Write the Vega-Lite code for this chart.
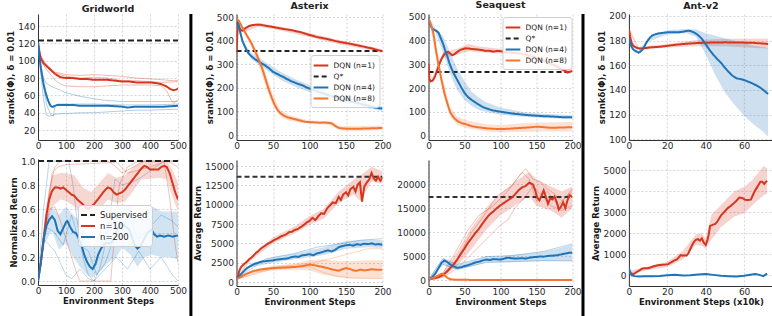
{
"$schema":"https://vega.github.io/schema/vega-lite/v6.json",
"padding":{"left":6,"top":0,"right":0,"bottom":0},
"autosize":{"type":"pad"},
"background":"white",
"config":{
 "font":"DejaVu Sans",
 "view":{"stroke":null},
 "axis":{"labelFont":"DejaVu Sans","labelFontSize":9,"labelColor":"#2a2a2a","titleFont":"DejaVu Sans","titleFontSize":8.5,"titleFontWeight":"bold","titleColor":"#1a1a1a","domainColor":"#333333","domainWidth":1,"ticks":false,"labelPadding":3,"titlePadding":2,"gridColor":"#b8b8b8","gridDash":[2,2],"gridWidth":0.6,"labelFlush":false,"labelOverlap":false},
 "axisX":{"labelPadding":1,"titlePadding":1},
 "axisY":{"titlePadding":2},
 "legend":{"labelFont":"DejaVu Sans","labelColor":"#222222","symbolType":"M-1.4,0H1.4","symbolStrokeWidth":2,"symbolFillColor":"transparent","padding":4,"fillColor":"rgba(255,255,255,0.85)","strokeColor":"#cfcfcf","cornerRadius":3,"rowPadding":0,"labelOffset":6},
 "title":{"font":"DejaVu Sans","fontSize":9.5,"fontWeight":"bold","color":"#222222","anchor":"middle"}
},
"datasets":{
"gwt_l":[
{"s":"Q*","x":0,"y":123.5},{"s":"Q*","x":500,"y":123.5},
{"s":"n=10","x":0,"y":121},{"s":"n=10","x":5,"y":110},{"s":"n=10","x":10,"y":103},{"s":"n=10","x":20,"y":97},{"s":"n=10","x":30,"y":94},{"s":"n=10","x":40,"y":91},{"s":"n=10","x":50,"y":88},{"s":"n=10","x":60,"y":85},{"s":"n=10","x":70,"y":83},{"s":"n=10","x":80,"y":81},{"s":"n=10","x":100,"y":80},{"s":"n=10","x":125,"y":80},{"s":"n=10","x":150,"y":79},{"s":"n=10","x":175,"y":79},{"s":"n=10","x":200,"y":78},{"s":"n=10","x":225,"y":78},{"s":"n=10","x":250,"y":78},{"s":"n=10","x":275,"y":77},{"s":"n=10","x":300,"y":76},{"s":"n=10","x":325,"y":76},{"s":"n=10","x":350,"y":75},{"s":"n=10","x":375,"y":75},{"s":"n=10","x":400,"y":75},{"s":"n=10","x":425,"y":74},{"s":"n=10","x":440,"y":73},{"s":"n=10","x":455,"y":71},{"s":"n=10","x":465,"y":69},{"s":"n=10","x":475,"y":67},{"s":"n=10","x":485,"y":66},{"s":"n=10","x":495,"y":67},{"s":"n=10","x":500,"y":68},
{"s":"n=200","x":0,"y":121},{"s":"n=200","x":5,"y":105},{"s":"n=200","x":10,"y":92},{"s":"n=200","x":15,"y":82},{"s":"n=200","x":20,"y":73},{"s":"n=200","x":25,"y":66},{"s":"n=200","x":30,"y":60},{"s":"n=200","x":35,"y":55},{"s":"n=200","x":40,"y":51},{"s":"n=200","x":45,"y":48},{"s":"n=200","x":50,"y":47},{"s":"n=200","x":55,"y":47},{"s":"n=200","x":60,"y":48},{"s":"n=200","x":70,"y":49},{"s":"n=200","x":80,"y":49},{"s":"n=200","x":100,"y":49},{"s":"n=200","x":125,"y":49},{"s":"n=200","x":150,"y":48},{"s":"n=200","x":200,"y":48},{"s":"n=200","x":250,"y":48},{"s":"n=200","x":300,"y":47},{"s":"n=200","x":320,"y":46},{"s":"n=200","x":350,"y":47},{"s":"n=200","x":400,"y":47},{"s":"n=200","x":450,"y":47},{"s":"n=200","x":500,"y":48}
],
"gwt_f":[
{"s":"n=10","r":"a","x":0,"y":121},{"s":"n=10","r":"a","x":10,"y":106},{"s":"n=10","r":"a","x":30,"y":96},{"s":"n=10","r":"a","x":60,"y":87},{"s":"n=10","r":"a","x":100,"y":84},{"s":"n=10","r":"a","x":150,"y":83},{"s":"n=10","r":"a","x":200,"y":84},{"s":"n=10","r":"a","x":250,"y":83},{"s":"n=10","r":"a","x":300,"y":82},{"s":"n=10","r":"a","x":350,"y":80},{"s":"n=10","r":"a","x":400,"y":79},{"s":"n=10","r":"a","x":450,"y":78},{"s":"n=10","r":"a","x":480,"y":77},{"s":"n=10","r":"a","x":500,"y":77},
{"s":"n=10","r":"b","x":0,"y":121},{"s":"n=10","r":"b","x":10,"y":100},{"s":"n=10","r":"b","x":30,"y":90},{"s":"n=10","r":"b","x":60,"y":78},{"s":"n=10","r":"b","x":80,"y":73},{"s":"n=10","r":"b","x":100,"y":71},{"s":"n=10","r":"b","x":150,"y":70},{"s":"n=10","r":"b","x":200,"y":70},{"s":"n=10","r":"b","x":250,"y":71},{"s":"n=10","r":"b","x":300,"y":72},{"s":"n=10","r":"b","x":350,"y":72},{"s":"n=10","r":"b","x":400,"y":72},{"s":"n=10","r":"b","x":440,"y":71},{"s":"n=10","r":"b","x":460,"y":65},{"s":"n=10","r":"b","x":475,"y":55},{"s":"n=10","r":"b","x":485,"y":51},{"s":"n=10","r":"b","x":500,"y":55},
{"s":"n=10","r":"c","x":0,"y":121},{"s":"n=10","r":"c","x":10,"y":103},{"s":"n=10","r":"c","x":30,"y":95},{"s":"n=10","r":"c","x":60,"y":86},{"s":"n=10","r":"c","x":100,"y":82},{"s":"n=10","r":"c","x":150,"y":80},{"s":"n=10","r":"c","x":200,"y":81},{"s":"n=10","r":"c","x":250,"y":80},{"s":"n=10","r":"c","x":300,"y":77},{"s":"n=10","r":"c","x":350,"y":77},{"s":"n=10","r":"c","x":400,"y":76},{"s":"n=10","r":"c","x":450,"y":75},{"s":"n=10","r":"c","x":500,"y":76},
{"s":"n=200","r":"a","x":0,"y":118},{"s":"n=200","r":"a","x":10,"y":95},{"s":"n=200","r":"a","x":20,"y":80},{"s":"n=200","r":"a","x":30,"y":74},{"s":"n=200","r":"a","x":50,"y":70},{"s":"n=200","r":"a","x":80,"y":66},{"s":"n=200","r":"a","x":100,"y":63},{"s":"n=200","r":"a","x":150,"y":59},{"s":"n=200","r":"a","x":200,"y":56},{"s":"n=200","r":"a","x":250,"y":54},{"s":"n=200","r":"a","x":300,"y":53},{"s":"n=200","r":"a","x":400,"y":53},{"s":"n=200","r":"a","x":500,"y":53},
{"s":"n=200","r":"b","x":0,"y":118},{"s":"n=200","r":"b","x":10,"y":85},{"s":"n=200","r":"b","x":20,"y":55},{"s":"n=200","r":"b","x":30,"y":37},{"s":"n=200","r":"b","x":40,"y":36},{"s":"n=200","r":"b","x":50,"y":37},{"s":"n=200","r":"b","x":60,"y":38},{"s":"n=200","r":"b","x":80,"y":39},{"s":"n=200","r":"b","x":100,"y":39},{"s":"n=200","r":"b","x":150,"y":40},{"s":"n=200","r":"b","x":200,"y":40},{"s":"n=200","r":"b","x":250,"y":41},{"s":"n=200","r":"b","x":300,"y":42},{"s":"n=200","r":"b","x":350,"y":43},{"s":"n=200","r":"b","x":400,"y":43},{"s":"n=200","r":"b","x":500,"y":44},
{"s":"n=200","r":"c","x":0,"y":118},{"s":"n=200","r":"c","x":15,"y":80},{"s":"n=200","r":"c","x":30,"y":50},{"s":"n=200","r":"c","x":45,"y":38},{"s":"n=200","r":"c","x":55,"y":36},{"s":"n=200","r":"c","x":60,"y":47},{"s":"n=200","r":"c","x":70,"y":50},{"s":"n=200","r":"c","x":100,"y":50},{"s":"n=200","r":"c","x":200,"y":50},{"s":"n=200","r":"c","x":300,"y":49},{"s":"n=200","r":"c","x":400,"y":49},{"s":"n=200","r":"c","x":500,"y":50}
],
"gwb_l":[
{"s":"Supervised","x":0,"y":1},{"s":"Supervised","x":500,"y":1},
{"s":"n=10","x":0,"y":0},{"s":"n=10","x":10,"y":0.15},{"s":"n=10","x":20,"y":0.35},{"s":"n=10","x":30,"y":0.55},{"s":"n=10","x":40,"y":0.68},{"s":"n=10","x":50,"y":0.75},{"s":"n=10","x":60,"y":0.78},{"s":"n=10","x":70,"y":0.78},{"s":"n=10","x":80,"y":0.77},{"s":"n=10","x":90,"y":0.78},{"s":"n=10","x":100,"y":0.76},{"s":"n=10","x":110,"y":0.74},{"s":"n=10","x":120,"y":0.72},{"s":"n=10","x":130,"y":0.71},{"s":"n=10","x":140,"y":0.68},{"s":"n=10","x":150,"y":0.66},{"s":"n=10","x":160,"y":0.64},{"s":"n=10","x":170,"y":0.61},{"s":"n=10","x":180,"y":0.6},{"s":"n=10","x":190,"y":0.62},{"s":"n=10","x":200,"y":0.64},{"s":"n=10","x":210,"y":0.67},{"s":"n=10","x":220,"y":0.7},{"s":"n=10","x":230,"y":0.73},{"s":"n=10","x":240,"y":0.76},{"s":"n=10","x":250,"y":0.78},{"s":"n=10","x":260,"y":0.77},{"s":"n=10","x":270,"y":0.74},{"s":"n=10","x":280,"y":0.72},{"s":"n=10","x":290,"y":0.73},{"s":"n=10","x":300,"y":0.74},{"s":"n=10","x":310,"y":0.76},{"s":"n=10","x":320,"y":0.79},{"s":"n=10","x":330,"y":0.82},{"s":"n=10","x":340,"y":0.85},{"s":"n=10","x":350,"y":0.88},{"s":"n=10","x":360,"y":0.91},{"s":"n=10","x":370,"y":0.94},{"s":"n=10","x":380,"y":0.96},{"s":"n=10","x":390,"y":0.95},{"s":"n=10","x":400,"y":0.93},{"s":"n=10","x":410,"y":0.93},{"s":"n=10","x":420,"y":0.93},{"s":"n=10","x":430,"y":0.93},{"s":"n=10","x":440,"y":0.95},{"s":"n=10","x":450,"y":0.96},{"s":"n=10","x":460,"y":0.95},{"s":"n=10","x":470,"y":0.9},{"s":"n=10","x":480,"y":0.82},{"s":"n=10","x":490,"y":0.74},{"s":"n=10","x":500,"y":0.68},
{"s":"n=200","x":0,"y":0},{"s":"n=200","x":10,"y":0.15},{"s":"n=200","x":20,"y":0.35},{"s":"n=200","x":30,"y":0.46},{"s":"n=200","x":40,"y":0.51},{"s":"n=200","x":50,"y":0.54},{"s":"n=200","x":60,"y":0.51},{"s":"n=200","x":70,"y":0.42},{"s":"n=200","x":80,"y":0.39},{"s":"n=200","x":90,"y":0.44},{"s":"n=200","x":100,"y":0.49},{"s":"n=200","x":105,"y":0.5},{"s":"n=200","x":115,"y":0.45},{"s":"n=200","x":125,"y":0.41},{"s":"n=200","x":135,"y":0.4},{"s":"n=200","x":145,"y":0.36},{"s":"n=200","x":155,"y":0.3},{"s":"n=200","x":165,"y":0.22},{"s":"n=200","x":175,"y":0.16},{"s":"n=200","x":185,"y":0.12},{"s":"n=200","x":195,"y":0.1},{"s":"n=200","x":205,"y":0.14},{"s":"n=200","x":215,"y":0.22},{"s":"n=200","x":225,"y":0.27},{"s":"n=200","x":235,"y":0.3},{"s":"n=200","x":245,"y":0.32},{"s":"n=200","x":255,"y":0.31},{"s":"n=200","x":265,"y":0.33},{"s":"n=200","x":275,"y":0.37},{"s":"n=200","x":285,"y":0.44},{"s":"n=200","x":295,"y":0.48},{"s":"n=200","x":305,"y":0.47},{"s":"n=200","x":315,"y":0.45},{"s":"n=200","x":325,"y":0.43},{"s":"n=200","x":335,"y":0.37},{"s":"n=200","x":345,"y":0.3},{"s":"n=200","x":355,"y":0.27},{"s":"n=200","x":365,"y":0.29},{"s":"n=200","x":375,"y":0.33},{"s":"n=200","x":385,"y":0.38},{"s":"n=200","x":395,"y":0.41},{"s":"n=200","x":405,"y":0.43},{"s":"n=200","x":415,"y":0.39},{"s":"n=200","x":425,"y":0.37},{"s":"n=200","x":435,"y":0.38},{"s":"n=200","x":450,"y":0.37},{"s":"n=200","x":465,"y":0.38},{"s":"n=200","x":480,"y":0.37},{"s":"n=200","x":500,"y":0.38}
],
"gwb_b":[
{"s":"n=10","x":0,"lo":0,"hi":0},{"s":"n=10","x":30,"lo":0.45,"hi":0.65},{"s":"n=10","x":50,"lo":0.62,"hi":0.88},{"s":"n=10","x":80,"lo":0.68,"hi":0.9},{"s":"n=10","x":100,"lo":0.67,"hi":0.9},{"s":"n=10","x":130,"lo":0.62,"hi":0.88},{"s":"n=10","x":160,"lo":0.55,"hi":0.78},{"s":"n=10","x":190,"lo":0.52,"hi":0.74},{"s":"n=10","x":220,"lo":0.6,"hi":0.82},{"s":"n=10","x":250,"lo":0.68,"hi":0.9},{"s":"n=10","x":280,"lo":0.65,"hi":0.86},{"s":"n=10","x":310,"lo":0.66,"hi":0.88},{"s":"n=10","x":340,"lo":0.75,"hi":0.95},{"s":"n=10","x":370,"lo":0.85,"hi":1.0},{"s":"n=10","x":400,"lo":0.85,"hi":1.0},{"s":"n=10","x":430,"lo":0.86,"hi":1.0},{"s":"n=10","x":460,"lo":0.85,"hi":1.0},{"s":"n=10","x":480,"lo":0.7,"hi":0.93},{"s":"n=10","x":500,"lo":0.58,"hi":0.82},
{"s":"n=200","x":0,"lo":0,"hi":0},{"s":"n=200","x":25,"lo":0.32,"hi":0.5},{"s":"n=200","x":50,"lo":0.42,"hi":0.62},{"s":"n=200","x":75,"lo":0.26,"hi":0.55},{"s":"n=200","x":100,"lo":0.32,"hi":0.62},{"s":"n=200","x":125,"lo":0.2,"hi":0.55},{"s":"n=200","x":150,"lo":0.12,"hi":0.5},{"s":"n=200","x":175,"lo":0.05,"hi":0.38},{"s":"n=200","x":195,"lo":0.03,"hi":0.28},{"s":"n=200","x":220,"lo":0.08,"hi":0.42},{"s":"n=200","x":250,"lo":0.15,"hi":0.5},{"s":"n=200","x":280,"lo":0.2,"hi":0.58},{"s":"n=200","x":300,"lo":0.28,"hi":0.62},{"s":"n=200","x":330,"lo":0.22,"hi":0.62},{"s":"n=200","x":355,"lo":0.12,"hi":0.48},{"s":"n=200","x":380,"lo":0.2,"hi":0.58},{"s":"n=200","x":410,"lo":0.22,"hi":0.62},{"s":"n=200","x":440,"lo":0.2,"hi":0.58},{"s":"n=200","x":470,"lo":0.2,"hi":0.58},{"s":"n=200","x":500,"lo":0.18,"hi":0.58}
],
"gwb_f":[
{"s":"n=10","r":"a","x":0,"y":0},{"s":"n=10","r":"a","x":20,"y":0.3},{"s":"n=10","r":"a","x":40,"y":0.75},{"s":"n=10","r":"a","x":60,"y":0.95},{"s":"n=10","r":"a","x":80,"y":1.0},{"s":"n=10","r":"a","x":250,"y":1.0},{"s":"n=10","r":"a","x":280,"y":0.95},{"s":"n=10","r":"a","x":300,"y":0.9},{"s":"n=10","r":"a","x":340,"y":0.95},{"s":"n=10","r":"a","x":380,"y":1.0},{"s":"n=10","r":"a","x":500,"y":1.0},
{"s":"n=10","r":"b","x":0,"y":0},{"s":"n=10","r":"b","x":20,"y":0.35},{"s":"n=10","r":"b","x":40,"y":0.6},{"s":"n=10","r":"b","x":60,"y":0.62},{"s":"n=10","r":"b","x":80,"y":0.5},{"s":"n=10","r":"b","x":100,"y":0.35},{"s":"n=10","r":"b","x":120,"y":0.2},{"s":"n=10","r":"b","x":140,"y":0.05},{"s":"n=10","r":"b","x":150,"y":0},{"s":"n=10","r":"b","x":260,"y":0},{"s":"n=10","r":"b","x":270,"y":0.3},{"s":"n=10","r":"b","x":290,"y":0.8},{"s":"n=10","r":"b","x":320,"y":0.95},{"s":"n=10","r":"b","x":360,"y":1.0},{"s":"n=10","r":"b","x":450,"y":1.0},{"s":"n=10","r":"b","x":470,"y":0.7},{"s":"n=10","r":"b","x":490,"y":0.3},{"s":"n=10","r":"b","x":500,"y":0.15},
{"s":"n=10","r":"c","x":0,"y":0},{"s":"n=10","r":"c","x":30,"y":0.5},{"s":"n=10","r":"c","x":50,"y":0.9},{"s":"n=10","r":"c","x":70,"y":0.95},{"s":"n=10","r":"c","x":100,"y":0.97},{"s":"n=10","r":"c","x":200,"y":0.98},{"s":"n=10","r":"c","x":280,"y":0.99},{"s":"n=10","r":"c","x":320,"y":0.9},{"s":"n=10","r":"c","x":400,"y":0.95},{"s":"n=10","r":"c","x":460,"y":1.0},{"s":"n=10","r":"c","x":500,"y":0.95},
{"s":"n=200","r":"a","x":0,"y":0},{"s":"n=200","r":"a","x":20,"y":0.6},{"s":"n=200","r":"a","x":40,"y":1.0},{"s":"n=200","r":"a","x":110,"y":1.0},{"s":"n=200","r":"a","x":125,"y":0.8},{"s":"n=200","r":"a","x":140,"y":0.5},{"s":"n=200","r":"a","x":160,"y":0.2},{"s":"n=200","r":"a","x":180,"y":0.05},{"s":"n=200","r":"a","x":200,"y":0},{"s":"n=200","r":"a","x":220,"y":0.1},{"s":"n=200","r":"a","x":240,"y":0.3},{"s":"n=200","r":"a","x":260,"y":0.6},{"s":"n=200","r":"a","x":275,"y":0.85},{"s":"n=200","r":"a","x":300,"y":0.8},{"s":"n=200","r":"a","x":330,"y":0.82},{"s":"n=200","r":"a","x":360,"y":0.85},{"s":"n=200","r":"a","x":390,"y":0.9},{"s":"n=200","r":"a","x":420,"y":0.95},{"s":"n=200","r":"a","x":450,"y":1.0},{"s":"n=200","r":"a","x":500,"y":1.0},
{"s":"n=200","r":"b","x":0,"y":0},{"s":"n=200","r":"b","x":20,"y":0.35},{"s":"n=200","r":"b","x":40,"y":0.3},{"s":"n=200","r":"b","x":60,"y":0.25},{"s":"n=200","r":"b","x":80,"y":0.15},{"s":"n=200","r":"b","x":100,"y":0.05},{"s":"n=200","r":"b","x":120,"y":0.02},{"s":"n=200","r":"b","x":150,"y":0.1},{"s":"n=200","r":"b","x":180,"y":0.02},{"s":"n=200","r":"b","x":200,"y":0},{"s":"n=200","r":"b","x":240,"y":0.1},{"s":"n=200","r":"b","x":280,"y":0.2},{"s":"n=200","r":"b","x":320,"y":0.1},{"s":"n=200","r":"b","x":360,"y":0.25},{"s":"n=200","r":"b","x":400,"y":0.1},{"s":"n=200","r":"b","x":440,"y":0.2},{"s":"n=200","r":"b","x":480,"y":0.05},{"s":"n=200","r":"b","x":500,"y":0},
{"s":"n=200","r":"c","x":0,"y":0},{"s":"n=200","r":"c","x":30,"y":0.45},{"s":"n=200","r":"c","x":60,"y":0.4},{"s":"n=200","r":"c","x":90,"y":0.3},{"s":"n=200","r":"c","x":120,"y":0.55},{"s":"n=200","r":"c","x":150,"y":0.3},{"s":"n=200","r":"c","x":180,"y":0.25},{"s":"n=200","r":"c","x":210,"y":0.05},{"s":"n=200","r":"c","x":240,"y":0.15},{"s":"n=200","r":"c","x":270,"y":0.35},{"s":"n=200","r":"c","x":300,"y":0.45},{"s":"n=200","r":"c","x":330,"y":0.5},{"s":"n=200","r":"c","x":360,"y":0.35},{"s":"n=200","r":"c","x":400,"y":0.45},{"s":"n=200","r":"c","x":440,"y":0.55},{"s":"n=200","r":"c","x":480,"y":0.5},{"s":"n=200","r":"c","x":500,"y":0.45}
],
"ast_l":[
{"s":"Q*","x":0,"y":356},{"s":"Q*","x":200,"y":356},
{"s":"DQN (n=1)","x":0,"y":350},{"s":"DQN (n=1)","x":1,"y":420},{"s":"DQN (n=1)","x":2,"y":475},{"s":"DQN (n=1)","x":4,"y":455},{"s":"DQN (n=1)","x":6,"y":445},{"s":"DQN (n=1)","x":8,"y":442},{"s":"DQN (n=1)","x":10,"y":447},{"s":"DQN (n=1)","x":13,"y":455},{"s":"DQN (n=1)","x":17,"y":462},{"s":"DQN (n=1)","x":22,"y":466},{"s":"DQN (n=1)","x":28,"y":468},{"s":"DQN (n=1)","x":34,"y":467},{"s":"DQN (n=1)","x":40,"y":463},{"s":"DQN (n=1)","x":46,"y":460},{"s":"DQN (n=1)","x":52,"y":457},{"s":"DQN (n=1)","x":58,"y":453},{"s":"DQN (n=1)","x":64,"y":450},{"s":"DQN (n=1)","x":70,"y":447},{"s":"DQN (n=1)","x":76,"y":444},{"s":"DQN (n=1)","x":82,"y":440},{"s":"DQN (n=1)","x":88,"y":436},{"s":"DQN (n=1)","x":94,"y":430},{"s":"DQN (n=1)","x":100,"y":424},{"s":"DQN (n=1)","x":106,"y":419},{"s":"DQN (n=1)","x":112,"y":414},{"s":"DQN (n=1)","x":118,"y":411},{"s":"DQN (n=1)","x":124,"y":407},{"s":"DQN (n=1)","x":130,"y":403},{"s":"DQN (n=1)","x":136,"y":398},{"s":"DQN (n=1)","x":142,"y":394},{"s":"DQN (n=1)","x":148,"y":391},{"s":"DQN (n=1)","x":154,"y":388},{"s":"DQN (n=1)","x":160,"y":384},{"s":"DQN (n=1)","x":166,"y":380},{"s":"DQN (n=1)","x":172,"y":376},{"s":"DQN (n=1)","x":178,"y":372},{"s":"DQN (n=1)","x":184,"y":368},{"s":"DQN (n=1)","x":190,"y":363},{"s":"DQN (n=1)","x":196,"y":358},{"s":"DQN (n=1)","x":200,"y":356},
{"s":"DQN (n=4)","x":0,"y":470},{"s":"DQN (n=4)","x":2,"y":478},{"s":"DQN (n=4)","x":4,"y":450},{"s":"DQN (n=4)","x":6,"y":425},{"s":"DQN (n=4)","x":8,"y":400},{"s":"DQN (n=4)","x":10,"y":385},{"s":"DQN (n=4)","x":13,"y":365},{"s":"DQN (n=4)","x":16,"y":348},{"s":"DQN (n=4)","x":20,"y":335},{"s":"DQN (n=4)","x":25,"y":322},{"s":"DQN (n=4)","x":30,"y":312},{"s":"DQN (n=4)","x":35,"y":303},{"s":"DQN (n=4)","x":40,"y":293},{"s":"DQN (n=4)","x":45,"y":282},{"s":"DQN (n=4)","x":50,"y":268},{"s":"DQN (n=4)","x":55,"y":260},{"s":"DQN (n=4)","x":60,"y":252},{"s":"DQN (n=4)","x":65,"y":245},{"s":"DQN (n=4)","x":70,"y":236},{"s":"DQN (n=4)","x":75,"y":228},{"s":"DQN (n=4)","x":80,"y":222},{"s":"DQN (n=4)","x":85,"y":216},{"s":"DQN (n=4)","x":90,"y":211},{"s":"DQN (n=4)","x":95,"y":203},{"s":"DQN (n=4)","x":100,"y":197},{"s":"DQN (n=4)","x":105,"y":192},{"s":"DQN (n=4)","x":110,"y":185},{"s":"DQN (n=4)","x":115,"y":180},{"s":"DQN (n=4)","x":120,"y":175},{"s":"DQN (n=4)","x":125,"y":170},{"s":"DQN (n=4)","x":130,"y":165},{"s":"DQN (n=4)","x":135,"y":160},{"s":"DQN (n=4)","x":140,"y":155},{"s":"DQN (n=4)","x":145,"y":150},{"s":"DQN (n=4)","x":150,"y":147},{"s":"DQN (n=4)","x":155,"y":143},{"s":"DQN (n=4)","x":160,"y":140},{"s":"DQN (n=4)","x":165,"y":137},{"s":"DQN (n=4)","x":170,"y":132},{"s":"DQN (n=4)","x":175,"y":128},{"s":"DQN (n=4)","x":180,"y":125},{"s":"DQN (n=4)","x":185,"y":121},{"s":"DQN (n=4)","x":190,"y":117},{"s":"DQN (n=4)","x":195,"y":114},{"s":"DQN (n=4)","x":200,"y":112},
{"s":"DQN (n=8)","x":0,"y":492},{"s":"DQN (n=8)","x":3,"y":485},{"s":"DQN (n=8)","x":6,"y":468},{"s":"DQN (n=8)","x":10,"y":445},{"s":"DQN (n=8)","x":15,"y":418},{"s":"DQN (n=8)","x":20,"y":392},{"s":"DQN (n=8)","x":24,"y":365},{"s":"DQN (n=8)","x":28,"y":338},{"s":"DQN (n=8)","x":32,"y":308},{"s":"DQN (n=8)","x":36,"y":275},{"s":"DQN (n=8)","x":40,"y":235},{"s":"DQN (n=8)","x":44,"y":195},{"s":"DQN (n=8)","x":48,"y":160},{"s":"DQN (n=8)","x":52,"y":130},{"s":"DQN (n=8)","x":56,"y":107},{"s":"DQN (n=8)","x":60,"y":93},{"s":"DQN (n=8)","x":65,"y":82},{"s":"DQN (n=8)","x":70,"y":75},{"s":"DQN (n=8)","x":75,"y":71},{"s":"DQN (n=8)","x":80,"y":67},{"s":"DQN (n=8)","x":85,"y":63},{"s":"DQN (n=8)","x":90,"y":59},{"s":"DQN (n=8)","x":95,"y":56},{"s":"DQN (n=8)","x":100,"y":55},{"s":"DQN (n=8)","x":105,"y":54},{"s":"DQN (n=8)","x":110,"y":53},{"s":"DQN (n=8)","x":115,"y":52},{"s":"DQN (n=8)","x":120,"y":53},{"s":"DQN (n=8)","x":125,"y":52},{"s":"DQN (n=8)","x":130,"y":50},{"s":"DQN (n=8)","x":133,"y":44},{"s":"DQN (n=8)","x":137,"y":35},{"s":"DQN (n=8)","x":141,"y":30},{"s":"DQN (n=8)","x":145,"y":28},{"s":"DQN (n=8)","x":150,"y":27},{"s":"DQN (n=8)","x":160,"y":27},{"s":"DQN (n=8)","x":170,"y":27},{"s":"DQN (n=8)","x":180,"y":28},{"s":"DQN (n=8)","x":190,"y":29},{"s":"DQN (n=8)","x":200,"y":30}
],
"ast_b":[
{"s":"DQN (n=1)","x":0,"lo":345,"hi":355},{"s":"DQN (n=1)","x":2,"lo":465,"hi":485},{"s":"DQN (n=1)","x":10,"lo":435,"hi":455},{"s":"DQN (n=1)","x":30,"lo":460,"hi":475},{"s":"DQN (n=1)","x":60,"lo":443,"hi":460},{"s":"DQN (n=1)","x":100,"lo":415,"hi":432},{"s":"DQN (n=1)","x":140,"lo":385,"hi":403},{"s":"DQN (n=1)","x":170,"lo":368,"hi":385},{"s":"DQN (n=1)","x":200,"lo":348,"hi":364},
{"s":"DQN (n=4)","x":0,"lo":465,"hi":480},{"s":"DQN (n=4)","x":10,"lo":375,"hi":395},{"s":"DQN (n=4)","x":20,"lo":322,"hi":348},{"s":"DQN (n=4)","x":40,"lo":278,"hi":308},{"s":"DQN (n=4)","x":60,"lo":235,"hi":268},{"s":"DQN (n=4)","x":80,"lo":205,"hi":238},{"s":"DQN (n=4)","x":100,"lo":182,"hi":212},{"s":"DQN (n=4)","x":120,"lo":160,"hi":190},{"s":"DQN (n=4)","x":140,"lo":142,"hi":168},{"s":"DQN (n=4)","x":160,"lo":128,"hi":152},{"s":"DQN (n=4)","x":180,"lo":114,"hi":136},{"s":"DQN (n=4)","x":200,"lo":102,"hi":122},
{"s":"DQN (n=8)","x":0,"lo":490,"hi":495},{"s":"DQN (n=8)","x":20,"lo":375,"hi":405},{"s":"DQN (n=8)","x":30,"lo":300,"hi":345},{"s":"DQN (n=8)","x":40,"lo":205,"hi":260},{"s":"DQN (n=8)","x":50,"lo":125,"hi":170},{"s":"DQN (n=8)","x":60,"lo":80,"hi":105},{"s":"DQN (n=8)","x":70,"lo":62,"hi":88},{"s":"DQN (n=8)","x":80,"lo":57,"hi":78},{"s":"DQN (n=8)","x":100,"lo":47,"hi":62},{"s":"DQN (n=8)","x":120,"lo":45,"hi":60},{"s":"DQN (n=8)","x":130,"lo":40,"hi":58},{"s":"DQN (n=8)","x":140,"lo":20,"hi":38},{"s":"DQN (n=8)","x":150,"lo":18,"hi":38},{"s":"DQN (n=8)","x":170,"lo":18,"hi":38},{"s":"DQN (n=8)","x":200,"lo":20,"hi":40}
],
"asb_l":[
{"s":"Q*","x":0,"y":13600},{"s":"Q*","x":200,"y":13600},
{"s":"DQN (n=1)","x":0,"y":500},{"s":"DQN (n=1)","x":2,"y":800},{"s":"DQN (n=1)","x":4,"y":1500},{"s":"DQN (n=1)","x":6,"y":1900},{"s":"DQN (n=1)","x":8,"y":2100},{"s":"DQN (n=1)","x":10,"y":2300},{"s":"DQN (n=1)","x":12,"y":2450},{"s":"DQN (n=1)","x":15,"y":2700},{"s":"DQN (n=1)","x":18,"y":3000},{"s":"DQN (n=1)","x":21,"y":3200},{"s":"DQN (n=1)","x":24,"y":3500},{"s":"DQN (n=1)","x":27,"y":3800},{"s":"DQN (n=1)","x":30,"y":4000},{"s":"DQN (n=1)","x":33,"y":4300},{"s":"DQN (n=1)","x":36,"y":4500},{"s":"DQN (n=1)","x":40,"y":4750},{"s":"DQN (n=1)","x":44,"y":5000},{"s":"DQN (n=1)","x":48,"y":5200},{"s":"DQN (n=1)","x":52,"y":5450},{"s":"DQN (n=1)","x":56,"y":5600},{"s":"DQN (n=1)","x":60,"y":5850},{"s":"DQN (n=1)","x":64,"y":6000},{"s":"DQN (n=1)","x":68,"y":6150},{"s":"DQN (n=1)","x":72,"y":6450},{"s":"DQN (n=1)","x":76,"y":6500},{"s":"DQN (n=1)","x":80,"y":6750},{"s":"DQN (n=1)","x":84,"y":6850},{"s":"DQN (n=1)","x":88,"y":7100},{"s":"DQN (n=1)","x":92,"y":7350},{"s":"DQN (n=1)","x":96,"y":7700},{"s":"DQN (n=1)","x":100,"y":7900},{"s":"DQN (n=1)","x":104,"y":8300},{"s":"DQN (n=1)","x":108,"y":8000},{"s":"DQN (n=1)","x":112,"y":8500},{"s":"DQN (n=1)","x":116,"y":8900},{"s":"DQN (n=1)","x":120,"y":8800},{"s":"DQN (n=1)","x":124,"y":9500},{"s":"DQN (n=1)","x":128,"y":9900},{"s":"DQN (n=1)","x":132,"y":10300},{"s":"DQN (n=1)","x":136,"y":10200},{"s":"DQN (n=1)","x":140,"y":11000},{"s":"DQN (n=1)","x":143,"y":10600},{"s":"DQN (n=1)","x":146,"y":11300},{"s":"DQN (n=1)","x":150,"y":11600},{"s":"DQN (n=1)","x":153,"y":11200},{"s":"DQN (n=1)","x":156,"y":12000},{"s":"DQN (n=1)","x":160,"y":12300},{"s":"DQN (n=1)","x":163,"y":11700},{"s":"DQN (n=1)","x":166,"y":12600},{"s":"DQN (n=1)","x":169,"y":12900},{"s":"DQN (n=1)","x":172,"y":10400},{"s":"DQN (n=1)","x":175,"y":12300},{"s":"DQN (n=1)","x":178,"y":12800},{"s":"DQN (n=1)","x":182,"y":13300},{"s":"DQN (n=1)","x":185,"y":14100},{"s":"DQN (n=1)","x":188,"y":13400},{"s":"DQN (n=1)","x":191,"y":13100},{"s":"DQN (n=1)","x":194,"y":13600},{"s":"DQN (n=1)","x":197,"y":13100},{"s":"DQN (n=1)","x":200,"y":13500},
{"s":"DQN (n=4)","x":0,"y":400},{"s":"DQN (n=4)","x":3,"y":700},{"s":"DQN (n=4)","x":6,"y":1000},{"s":"DQN (n=4)","x":9,"y":1300},{"s":"DQN (n=4)","x":12,"y":1600},{"s":"DQN (n=4)","x":15,"y":1850},{"s":"DQN (n=4)","x":20,"y":2100},{"s":"DQN (n=4)","x":25,"y":2350},{"s":"DQN (n=4)","x":30,"y":2500},{"s":"DQN (n=4)","x":35,"y":2650},{"s":"DQN (n=4)","x":40,"y":2700},{"s":"DQN (n=4)","x":45,"y":2750},{"s":"DQN (n=4)","x":50,"y":2800},{"s":"DQN (n=4)","x":55,"y":2900},{"s":"DQN (n=4)","x":60,"y":2950},{"s":"DQN (n=4)","x":65,"y":3000},{"s":"DQN (n=4)","x":70,"y":3050},{"s":"DQN (n=4)","x":75,"y":3200},{"s":"DQN (n=4)","x":80,"y":3300},{"s":"DQN (n=4)","x":85,"y":3250},{"s":"DQN (n=4)","x":90,"y":3450},{"s":"DQN (n=4)","x":95,"y":3500},{"s":"DQN (n=4)","x":100,"y":3600},{"s":"DQN (n=4)","x":105,"y":3450},{"s":"DQN (n=4)","x":110,"y":3700},{"s":"DQN (n=4)","x":115,"y":3800},{"s":"DQN (n=4)","x":120,"y":3950},{"s":"DQN (n=4)","x":125,"y":4100},{"s":"DQN (n=4)","x":130,"y":3950},{"s":"DQN (n=4)","x":135,"y":4150},{"s":"DQN (n=4)","x":140,"y":4500},{"s":"DQN (n=4)","x":145,"y":4650},{"s":"DQN (n=4)","x":150,"y":4750},{"s":"DQN (n=4)","x":155,"y":4800},{"s":"DQN (n=4)","x":160,"y":4700},{"s":"DQN (n=4)","x":165,"y":4900},{"s":"DQN (n=4)","x":170,"y":4800},{"s":"DQN (n=4)","x":175,"y":4950},{"s":"DQN (n=4)","x":180,"y":4900},{"s":"DQN (n=4)","x":185,"y":5000},{"s":"DQN (n=4)","x":190,"y":4850},{"s":"DQN (n=4)","x":195,"y":4900},{"s":"DQN (n=4)","x":200,"y":4800},
{"s":"DQN (n=8)","x":0,"y":350},{"s":"DQN (n=8)","x":5,"y":600},{"s":"DQN (n=8)","x":10,"y":900},{"s":"DQN (n=8)","x":15,"y":1100},{"s":"DQN (n=8)","x":20,"y":1300},{"s":"DQN (n=8)","x":25,"y":1450},{"s":"DQN (n=8)","x":30,"y":1550},{"s":"DQN (n=8)","x":35,"y":1650},{"s":"DQN (n=8)","x":40,"y":1700},{"s":"DQN (n=8)","x":50,"y":1800},{"s":"DQN (n=8)","x":60,"y":1850},{"s":"DQN (n=8)","x":70,"y":1900},{"s":"DQN (n=8)","x":80,"y":1950},{"s":"DQN (n=8)","x":90,"y":2050},{"s":"DQN (n=8)","x":100,"y":2250},{"s":"DQN (n=8)","x":105,"y":2200},{"s":"DQN (n=8)","x":110,"y":2100},{"s":"DQN (n=8)","x":115,"y":2000},{"s":"DQN (n=8)","x":120,"y":1900},{"s":"DQN (n=8)","x":125,"y":1800},{"s":"DQN (n=8)","x":130,"y":1650},{"s":"DQN (n=8)","x":135,"y":1550},{"s":"DQN (n=8)","x":140,"y":1450},{"s":"DQN (n=8)","x":145,"y":1650},{"s":"DQN (n=8)","x":150,"y":1800},{"s":"DQN (n=8)","x":155,"y":1700},{"s":"DQN (n=8)","x":160,"y":1500},{"s":"DQN (n=8)","x":165,"y":1450},{"s":"DQN (n=8)","x":170,"y":1600},{"s":"DQN (n=8)","x":175,"y":1500},{"s":"DQN (n=8)","x":180,"y":1550},{"s":"DQN (n=8)","x":185,"y":1650},{"s":"DQN (n=8)","x":190,"y":1600},{"s":"DQN (n=8)","x":200,"y":1600}
],
"asb_b":[
{"s":"DQN (n=1)","x":0,"lo":400,"hi":600},{"s":"DQN (n=1)","x":20,"lo":2800,"hi":3300},{"s":"DQN (n=1)","x":50,"lo":5000,"hi":5800},{"s":"DQN (n=1)","x":80,"lo":6300,"hi":7200},{"s":"DQN (n=1)","x":100,"lo":7400,"hi":8500},{"s":"DQN (n=1)","x":120,"lo":8200,"hi":9500},{"s":"DQN (n=1)","x":140,"lo":10200,"hi":11700},{"s":"DQN (n=1)","x":160,"lo":11300,"hi":13200},{"s":"DQN (n=1)","x":170,"lo":10500,"hi":13800},{"s":"DQN (n=1)","x":185,"lo":13000,"hi":14900},{"s":"DQN (n=1)","x":200,"lo":12700,"hi":14300},
{"s":"DQN (n=4)","x":0,"lo":350,"hi":450},{"s":"DQN (n=4)","x":20,"lo":1900,"hi":2400},{"s":"DQN (n=4)","x":50,"lo":2500,"hi":3200},{"s":"DQN (n=4)","x":80,"lo":2950,"hi":3700},{"s":"DQN (n=4)","x":100,"lo":3200,"hi":4100},{"s":"DQN (n=4)","x":120,"lo":3500,"hi":4500},{"s":"DQN (n=4)","x":150,"lo":4300,"hi":5300},{"s":"DQN (n=4)","x":180,"lo":4500,"hi":5500},{"s":"DQN (n=4)","x":200,"lo":4400,"hi":5400},
{"s":"DQN (n=8)","x":0,"lo":300,"hi":400},{"s":"DQN (n=8)","x":20,"lo":1100,"hi":1500},{"s":"DQN (n=8)","x":50,"lo":1500,"hi":2100},{"s":"DQN (n=8)","x":80,"lo":1600,"hi":2400},{"s":"DQN (n=8)","x":100,"lo":1500,"hi":2800},{"s":"DQN (n=8)","x":120,"lo":900,"hi":2900},{"s":"DQN (n=8)","x":140,"lo":600,"hi":2700},{"s":"DQN (n=8)","x":160,"lo":500,"hi":2700},{"s":"DQN (n=8)","x":180,"lo":450,"hi":2800},{"s":"DQN (n=8)","x":200,"lo":450,"hi":2800}
],
"asb_f":[
{"s":"DQN (n=8)","r":"a","x":0,"y":350},{"s":"DQN (n=8)","r":"a","x":50,"y":1900},{"s":"DQN (n=8)","r":"a","x":100,"y":2400},{"s":"DQN (n=8)","r":"a","x":120,"y":2800},{"s":"DQN (n=8)","r":"a","x":140,"y":3300},{"s":"DQN (n=8)","r":"a","x":160,"y":3800},{"s":"DQN (n=8)","r":"a","x":180,"y":4300},{"s":"DQN (n=8)","r":"a","x":200,"y":4300},
{"s":"DQN (n=8)","r":"b","x":0,"y":350},{"s":"DQN (n=8)","r":"b","x":50,"y":1700},{"s":"DQN (n=8)","r":"b","x":100,"y":2000},{"s":"DQN (n=8)","r":"b","x":120,"y":1200},{"s":"DQN (n=8)","r":"b","x":140,"y":700},{"s":"DQN (n=8)","r":"b","x":160,"y":500},{"s":"DQN (n=8)","r":"b","x":200,"y":450},
{"s":"DQN (n=4)","r":"a","x":0,"y":400},{"s":"DQN (n=4)","r":"a","x":40,"y":3000},{"s":"DQN (n=4)","r":"a","x":80,"y":3700},{"s":"DQN (n=4)","r":"a","x":110,"y":4500},{"s":"DQN (n=4)","r":"a","x":140,"y":4900},{"s":"DQN (n=4)","r":"a","x":170,"y":5400},{"s":"DQN (n=4)","r":"a","x":200,"y":5600}
],
"sqt_l":[
{"s":"Q*","x":0,"y":268},{"s":"Q*","x":200,"y":268},
{"s":"DQN (n=1)","x":0,"y":300},{"s":"DQN (n=1)","x":1,"y":240},{"s":"DQN (n=1)","x":3,"y":228},{"s":"DQN (n=1)","x":6,"y":232},{"s":"DQN (n=1)","x":9,"y":248},{"s":"DQN (n=1)","x":12,"y":275},{"s":"DQN (n=1)","x":15,"y":300},{"s":"DQN (n=1)","x":18,"y":322},{"s":"DQN (n=1)","x":21,"y":338},{"s":"DQN (n=1)","x":24,"y":348},{"s":"DQN (n=1)","x":27,"y":352},{"s":"DQN (n=1)","x":30,"y":345},{"s":"DQN (n=1)","x":33,"y":338},{"s":"DQN (n=1)","x":36,"y":342},{"s":"DQN (n=1)","x":40,"y":352},{"s":"DQN (n=1)","x":44,"y":360},{"s":"DQN (n=1)","x":48,"y":364},{"s":"DQN (n=1)","x":52,"y":367},{"s":"DQN (n=1)","x":56,"y":366},{"s":"DQN (n=1)","x":60,"y":364},{"s":"DQN (n=1)","x":65,"y":363},{"s":"DQN (n=1)","x":70,"y":361},{"s":"DQN (n=1)","x":75,"y":359},{"s":"DQN (n=1)","x":80,"y":356},{"s":"DQN (n=1)","x":85,"y":357},{"s":"DQN (n=1)","x":90,"y":353},{"s":"DQN (n=1)","x":95,"y":356},{"s":"DQN (n=1)","x":100,"y":355},{"s":"DQN (n=1)","x":105,"y":352},{"s":"DQN (n=1)","x":110,"y":350},{"s":"DQN (n=1)","x":115,"y":348},{"s":"DQN (n=1)","x":120,"y":347},{"s":"DQN (n=1)","x":125,"y":346},{"s":"DQN (n=1)","x":130,"y":344},{"s":"DQN (n=1)","x":135,"y":340},{"s":"DQN (n=1)","x":140,"y":336},{"s":"DQN (n=1)","x":145,"y":332},{"s":"DQN (n=1)","x":150,"y":326},{"s":"DQN (n=1)","x":155,"y":321},{"s":"DQN (n=1)","x":160,"y":317},{"s":"DQN (n=1)","x":165,"y":309},{"s":"DQN (n=1)","x":170,"y":301},{"s":"DQN (n=1)","x":175,"y":296},{"s":"DQN (n=1)","x":180,"y":288},{"s":"DQN (n=1)","x":185,"y":280},{"s":"DQN (n=1)","x":190,"y":272},{"s":"DQN (n=1)","x":193,"y":265},{"s":"DQN (n=1)","x":196,"y":268},{"s":"DQN (n=1)","x":200,"y":272},
{"s":"DQN (n=4)","x":0,"y":495},{"s":"DQN (n=4)","x":2,"y":470},{"s":"DQN (n=4)","x":5,"y":450},{"s":"DQN (n=4)","x":8,"y":444},{"s":"DQN (n=4)","x":11,"y":440},{"s":"DQN (n=4)","x":14,"y":432},{"s":"DQN (n=4)","x":17,"y":410},{"s":"DQN (n=4)","x":20,"y":388},{"s":"DQN (n=4)","x":23,"y":360},{"s":"DQN (n=4)","x":26,"y":335},{"s":"DQN (n=4)","x":29,"y":305},{"s":"DQN (n=4)","x":32,"y":282},{"s":"DQN (n=4)","x":35,"y":262},{"s":"DQN (n=4)","x":38,"y":245},{"s":"DQN (n=4)","x":42,"y":222},{"s":"DQN (n=4)","x":46,"y":200},{"s":"DQN (n=4)","x":50,"y":180},{"s":"DQN (n=4)","x":55,"y":162},{"s":"DQN (n=4)","x":60,"y":150},{"s":"DQN (n=4)","x":65,"y":140},{"s":"DQN (n=4)","x":70,"y":130},{"s":"DQN (n=4)","x":75,"y":121},{"s":"DQN (n=4)","x":80,"y":115},{"s":"DQN (n=4)","x":85,"y":110},{"s":"DQN (n=4)","x":90,"y":106},{"s":"DQN (n=4)","x":95,"y":103},{"s":"DQN (n=4)","x":100,"y":101},{"s":"DQN (n=4)","x":110,"y":96},{"s":"DQN (n=4)","x":120,"y":92},{"s":"DQN (n=4)","x":130,"y":89},{"s":"DQN (n=4)","x":140,"y":86},{"s":"DQN (n=4)","x":150,"y":84},{"s":"DQN (n=4)","x":160,"y":82},{"s":"DQN (n=4)","x":170,"y":81},{"s":"DQN (n=4)","x":180,"y":79},{"s":"DQN (n=4)","x":190,"y":77},{"s":"DQN (n=4)","x":200,"y":77},
{"s":"DQN (n=8)","x":0,"y":492},{"s":"DQN (n=8)","x":3,"y":470},{"s":"DQN (n=8)","x":6,"y":440},{"s":"DQN (n=8)","x":8,"y":410},{"s":"DQN (n=8)","x":10,"y":365},{"s":"DQN (n=8)","x":12,"y":330},{"s":"DQN (n=8)","x":14,"y":295},{"s":"DQN (n=8)","x":16,"y":265},{"s":"DQN (n=8)","x":18,"y":235},{"s":"DQN (n=8)","x":20,"y":208},{"s":"DQN (n=8)","x":22,"y":180},{"s":"DQN (n=8)","x":24,"y":158},{"s":"DQN (n=8)","x":26,"y":138},{"s":"DQN (n=8)","x":28,"y":118},{"s":"DQN (n=8)","x":30,"y":100},{"s":"DQN (n=8)","x":33,"y":85},{"s":"DQN (n=8)","x":36,"y":73},{"s":"DQN (n=8)","x":40,"y":62},{"s":"DQN (n=8)","x":45,"y":54},{"s":"DQN (n=8)","x":50,"y":50},{"s":"DQN (n=8)","x":55,"y":45},{"s":"DQN (n=8)","x":60,"y":40},{"s":"DQN (n=8)","x":70,"y":35},{"s":"DQN (n=8)","x":80,"y":31},{"s":"DQN (n=8)","x":90,"y":29},{"s":"DQN (n=8)","x":100,"y":28},{"s":"DQN (n=8)","x":110,"y":29},{"s":"DQN (n=8)","x":120,"y":31},{"s":"DQN (n=8)","x":130,"y":33},{"s":"DQN (n=8)","x":140,"y":35},{"s":"DQN (n=8)","x":150,"y":38},{"s":"DQN (n=8)","x":160,"y":36},{"s":"DQN (n=8)","x":170,"y":33},{"s":"DQN (n=8)","x":180,"y":34},{"s":"DQN (n=8)","x":190,"y":35},{"s":"DQN (n=8)","x":200,"y":36}
],
"sqt_b":[
{"s":"DQN (n=1)","x":0,"lo":290,"hi":310},{"s":"DQN (n=1)","x":5,"lo":222,"hi":240},{"s":"DQN (n=1)","x":20,"lo":325,"hi":350},{"s":"DQN (n=1)","x":40,"lo":340,"hi":365},{"s":"DQN (n=1)","x":55,"lo":355,"hi":385},{"s":"DQN (n=1)","x":70,"lo":350,"hi":375},{"s":"DQN (n=1)","x":100,"lo":345,"hi":365},{"s":"DQN (n=1)","x":130,"lo":335,"hi":355},{"s":"DQN (n=1)","x":160,"lo":305,"hi":328},{"s":"DQN (n=1)","x":190,"lo":262,"hi":282},{"s":"DQN (n=1)","x":200,"lo":262,"hi":282},
{"s":"DQN (n=4)","x":0,"lo":490,"hi":500},{"s":"DQN (n=4)","x":10,"lo":430,"hi":450},{"s":"DQN (n=4)","x":20,"lo":350,"hi":420},{"s":"DQN (n=4)","x":30,"lo":260,"hi":350},{"s":"DQN (n=4)","x":40,"lo":190,"hi":280},{"s":"DQN (n=4)","x":50,"lo":150,"hi":230},{"s":"DQN (n=4)","x":60,"lo":125,"hi":185},{"s":"DQN (n=4)","x":70,"lo":108,"hi":160},{"s":"DQN (n=4)","x":80,"lo":100,"hi":140},{"s":"DQN (n=4)","x":100,"lo":88,"hi":118},{"s":"DQN (n=4)","x":130,"lo":80,"hi":100},{"s":"DQN (n=4)","x":160,"lo":74,"hi":92},{"s":"DQN (n=4)","x":200,"lo":70,"hi":86},
{"s":"DQN (n=8)","x":0,"lo":490,"hi":495},{"s":"DQN (n=8)","x":10,"lo":340,"hi":390},{"s":"DQN (n=8)","x":20,"lo":180,"hi":235},{"s":"DQN (n=8)","x":30,"lo":80,"hi":120},{"s":"DQN (n=8)","x":40,"lo":45,"hi":80},{"s":"DQN (n=8)","x":50,"lo":35,"hi":68},{"s":"DQN (n=8)","x":60,"lo":28,"hi":60},{"s":"DQN (n=8)","x":80,"lo":18,"hi":48},{"s":"DQN (n=8)","x":100,"lo":14,"hi":45},{"s":"DQN (n=8)","x":130,"lo":16,"hi":52},{"s":"DQN (n=8)","x":160,"lo":18,"hi":55},{"s":"DQN (n=8)","x":200,"lo":18,"hi":58}
],
"sqb_l":[
{"s":"Q*","x":0,"y":17300},{"s":"Q*","x":200,"y":17300},
{"s":"DQN (n=1)","x":0,"y":200},{"s":"DQN (n=1)","x":5,"y":300},{"s":"DQN (n=1)","x":10,"y":450},{"s":"DQN (n=1)","x":15,"y":700},{"s":"DQN (n=1)","x":20,"y":1100},{"s":"DQN (n=1)","x":25,"y":1700},{"s":"DQN (n=1)","x":30,"y":2500},{"s":"DQN (n=1)","x":35,"y":3300},{"s":"DQN (n=1)","x":40,"y":4300},{"s":"DQN (n=1)","x":45,"y":5500},{"s":"DQN (n=1)","x":50,"y":6600},{"s":"DQN (n=1)","x":55,"y":7800},{"s":"DQN (n=1)","x":60,"y":8800},{"s":"DQN (n=1)","x":65,"y":9800},{"s":"DQN (n=1)","x":70,"y":10700},{"s":"DQN (n=1)","x":75,"y":11800},{"s":"DQN (n=1)","x":80,"y":12800},{"s":"DQN (n=1)","x":85,"y":13700},{"s":"DQN (n=1)","x":90,"y":14300},{"s":"DQN (n=1)","x":95,"y":15000},{"s":"DQN (n=1)","x":100,"y":15600},{"s":"DQN (n=1)","x":105,"y":16100},{"s":"DQN (n=1)","x":110,"y":16600},{"s":"DQN (n=1)","x":115,"y":17100},{"s":"DQN (n=1)","x":120,"y":17800},{"s":"DQN (n=1)","x":125,"y":18700},{"s":"DQN (n=1)","x":130,"y":19300},{"s":"DQN (n=1)","x":135,"y":19600},{"s":"DQN (n=1)","x":140,"y":20300},{"s":"DQN (n=1)","x":145,"y":19900},{"s":"DQN (n=1)","x":148,"y":18800},{"s":"DQN (n=1)","x":151,"y":17200},{"s":"DQN (n=1)","x":154,"y":16600},{"s":"DQN (n=1)","x":157,"y":17600},{"s":"DQN (n=1)","x":160,"y":18700},{"s":"DQN (n=1)","x":163,"y":17300},{"s":"DQN (n=1)","x":166,"y":15900},{"s":"DQN (n=1)","x":169,"y":17000},{"s":"DQN (n=1)","x":172,"y":16800},{"s":"DQN (n=1)","x":175,"y":17400},{"s":"DQN (n=1)","x":178,"y":16300},{"s":"DQN (n=1)","x":181,"y":14700},{"s":"DQN (n=1)","x":184,"y":15300},{"s":"DQN (n=1)","x":187,"y":16200},{"s":"DQN (n=1)","x":190,"y":15000},{"s":"DQN (n=1)","x":193,"y":16600},{"s":"DQN (n=1)","x":196,"y":17700},{"s":"DQN (n=1)","x":200,"y":17300},
{"s":"DQN (n=4)","x":0,"y":200},{"s":"DQN (n=4)","x":5,"y":600},{"s":"DQN (n=4)","x":10,"y":1500},{"s":"DQN (n=4)","x":15,"y":2800},{"s":"DQN (n=4)","x":18,"y":3600},{"s":"DQN (n=4)","x":22,"y":4100},{"s":"DQN (n=4)","x":26,"y":3800},{"s":"DQN (n=4)","x":30,"y":3300},{"s":"DQN (n=4)","x":35,"y":2900},{"s":"DQN (n=4)","x":40,"y":2600},{"s":"DQN (n=4)","x":45,"y":2700},{"s":"DQN (n=4)","x":50,"y":2950},{"s":"DQN (n=4)","x":55,"y":3150},{"s":"DQN (n=4)","x":60,"y":3400},{"s":"DQN (n=4)","x":65,"y":3700},{"s":"DQN (n=4)","x":70,"y":3850},{"s":"DQN (n=4)","x":75,"y":4100},{"s":"DQN (n=4)","x":80,"y":4300},{"s":"DQN (n=4)","x":85,"y":4200},{"s":"DQN (n=4)","x":90,"y":4400},{"s":"DQN (n=4)","x":95,"y":4350},{"s":"DQN (n=4)","x":100,"y":4300},{"s":"DQN (n=4)","x":105,"y":4500},{"s":"DQN (n=4)","x":110,"y":4700},{"s":"DQN (n=4)","x":115,"y":4600},{"s":"DQN (n=4)","x":120,"y":4500},{"s":"DQN (n=4)","x":125,"y":4550},{"s":"DQN (n=4)","x":130,"y":4600},{"s":"DQN (n=4)","x":135,"y":4500},{"s":"DQN (n=4)","x":140,"y":4700},{"s":"DQN (n=4)","x":145,"y":4800},{"s":"DQN (n=4)","x":150,"y":4850},{"s":"DQN (n=4)","x":155,"y":4950},{"s":"DQN (n=4)","x":160,"y":4900},{"s":"DQN (n=4)","x":165,"y":5050},{"s":"DQN (n=4)","x":170,"y":5100},{"s":"DQN (n=4)","x":175,"y":5150},{"s":"DQN (n=4)","x":180,"y":5250},{"s":"DQN (n=4)","x":185,"y":5400},{"s":"DQN (n=4)","x":190,"y":5550},{"s":"DQN (n=4)","x":195,"y":5700},{"s":"DQN (n=4)","x":200,"y":5750},
{"s":"DQN (n=8)","x":0,"y":200},{"s":"DQN (n=8)","x":5,"y":400},{"s":"DQN (n=8)","x":10,"y":700},{"s":"DQN (n=8)","x":15,"y":1100},{"s":"DQN (n=8)","x":18,"y":1350},{"s":"DQN (n=8)","x":21,"y":1200},{"s":"DQN (n=8)","x":24,"y":800},{"s":"DQN (n=8)","x":27,"y":450},{"s":"DQN (n=8)","x":30,"y":250},{"s":"DQN (n=8)","x":33,"y":150},{"s":"DQN (n=8)","x":40,"y":100},{"s":"DQN (n=8)","x":60,"y":80},{"s":"DQN (n=8)","x":100,"y":70},{"s":"DQN (n=8)","x":150,"y":70},{"s":"DQN (n=8)","x":200,"y":70}
],
"sqb_b":[
{"s":"DQN (n=1)","x":0,"lo":150,"hi":300},{"s":"DQN (n=1)","x":20,"lo":700,"hi":1600},{"s":"DQN (n=1)","x":40,"lo":3000,"hi":6000},{"s":"DQN (n=1)","x":60,"lo":6500,"hi":11000},{"s":"DQN (n=1)","x":80,"lo":10500,"hi":15000},{"s":"DQN (n=1)","x":100,"lo":13500,"hi":18000},{"s":"DQN (n=1)","x":120,"lo":15500,"hi":20500},{"s":"DQN (n=1)","x":140,"lo":17500,"hi":22500},{"s":"DQN (n=1)","x":150,"lo":15500,"hi":21000},{"s":"DQN (n=1)","x":170,"lo":14500,"hi":19500},{"s":"DQN (n=1)","x":185,"lo":13000,"hi":18500},{"s":"DQN (n=1)","x":200,"lo":15000,"hi":19500},
{"s":"DQN (n=4)","x":0,"lo":150,"hi":250},{"s":"DQN (n=4)","x":20,"lo":3300,"hi":4600},{"s":"DQN (n=4)","x":40,"lo":2200,"hi":3200},{"s":"DQN (n=4)","x":60,"lo":2900,"hi":4000},{"s":"DQN (n=4)","x":80,"lo":3700,"hi":5000},{"s":"DQN (n=4)","x":100,"lo":3700,"hi":5000},{"s":"DQN (n=4)","x":120,"lo":3800,"hi":5300},{"s":"DQN (n=4)","x":140,"lo":3900,"hi":5600},{"s":"DQN (n=4)","x":160,"lo":4000,"hi":6000},{"s":"DQN (n=4)","x":180,"lo":4000,"hi":6600},{"s":"DQN (n=4)","x":200,"lo":4000,"hi":7500}
],
"sqb_f":[
{"s":"DQN (n=1)","r":"a","x":0,"y":200},{"s":"DQN (n=1)","r":"a","x":20,"y":1500},{"s":"DQN (n=1)","r":"a","x":40,"y":6500},{"s":"DQN (n=1)","r":"a","x":55,"y":10500},{"s":"DQN (n=1)","r":"a","x":70,"y":13500},{"s":"DQN (n=1)","r":"a","x":90,"y":15500},{"s":"DQN (n=1)","r":"a","x":110,"y":18500},{"s":"DQN (n=1)","r":"a","x":125,"y":21500},{"s":"DQN (n=1)","r":"a","x":135,"y":23200},{"s":"DQN (n=1)","r":"a","x":145,"y":21000},{"s":"DQN (n=1)","r":"a","x":155,"y":20500},{"s":"DQN (n=1)","r":"a","x":165,"y":19000},{"s":"DQN (n=1)","r":"a","x":175,"y":18000},{"s":"DQN (n=1)","r":"a","x":185,"y":16500},{"s":"DQN (n=1)","r":"a","x":200,"y":18500},
{"s":"DQN (n=1)","r":"b","x":0,"y":200},{"s":"DQN (n=1)","r":"b","x":20,"y":600},{"s":"DQN (n=1)","r":"b","x":40,"y":2500},{"s":"DQN (n=1)","r":"b","x":60,"y":5500},{"s":"DQN (n=1)","r":"b","x":80,"y":8500},{"s":"DQN (n=1)","r":"b","x":100,"y":11500},{"s":"DQN (n=1)","r":"b","x":110,"y":12500},{"s":"DQN (n=1)","r":"b","x":120,"y":15000},{"s":"DQN (n=1)","r":"b","x":135,"y":17500},{"s":"DQN (n=1)","r":"b","x":145,"y":19500},{"s":"DQN (n=1)","r":"b","x":155,"y":18000},{"s":"DQN (n=1)","r":"b","x":170,"y":15500},{"s":"DQN (n=1)","r":"b","x":185,"y":14500},{"s":"DQN (n=1)","r":"b","x":200,"y":15500},
{"s":"DQN (n=1)","r":"c","x":0,"y":200},{"s":"DQN (n=1)","r":"c","x":20,"y":1200},{"s":"DQN (n=1)","r":"c","x":40,"y":4500},{"s":"DQN (n=1)","r":"c","x":60,"y":10000},{"s":"DQN (n=1)","r":"c","x":75,"y":13000},{"s":"DQN (n=1)","r":"c","x":95,"y":17500},{"s":"DQN (n=1)","r":"c","x":115,"y":19500},{"s":"DQN (n=1)","r":"c","x":130,"y":22500},{"s":"DQN (n=1)","r":"c","x":140,"y":21000},{"s":"DQN (n=1)","r":"c","x":150,"y":16500},{"s":"DQN (n=1)","r":"c","x":165,"y":18500},{"s":"DQN (n=1)","r":"c","x":180,"y":15500},{"s":"DQN (n=1)","r":"c","x":200,"y":19000},
{"s":"DQN (n=4)","r":"a","x":0,"y":200},{"s":"DQN (n=4)","r":"a","x":20,"y":4500},{"s":"DQN (n=4)","r":"a","x":40,"y":3300},{"s":"DQN (n=4)","r":"a","x":80,"y":4900},{"s":"DQN (n=4)","r":"a","x":120,"y":5200},{"s":"DQN (n=4)","r":"a","x":160,"y":6000},{"s":"DQN (n=4)","r":"a","x":200,"y":7600},
{"s":"DQN (n=4)","r":"b","x":0,"y":200},{"s":"DQN (n=4)","r":"b","x":20,"y":3300},{"s":"DQN (n=4)","r":"b","x":40,"y":2300},{"s":"DQN (n=4)","r":"b","x":80,"y":3700},{"s":"DQN (n=4)","r":"b","x":120,"y":3900},{"s":"DQN (n=4)","r":"b","x":160,"y":4100},{"s":"DQN (n=4)","r":"b","x":200,"y":4000}
],
"antt_l":[
{"s":"n=4","x":0,"y":189},{"s":"n=4","x":0.7,"y":183},{"s":"n=4","x":1.4,"y":178},{"s":"n=4","x":2.2,"y":176},{"s":"n=4","x":3,"y":175},{"s":"n=4","x":4,"y":174.3},{"s":"n=4","x":5,"y":173.8},{"s":"n=4","x":6,"y":173.6},{"s":"n=4","x":8,"y":173.8},{"s":"n=4","x":10,"y":174.3},{"s":"n=4","x":12,"y":174.6},{"s":"n=4","x":14,"y":174.8},{"s":"n=4","x":16,"y":175},{"s":"n=4","x":18,"y":175.4},{"s":"n=4","x":20,"y":175.8},{"s":"n=4","x":22,"y":176.2},{"s":"n=4","x":24,"y":176.6},{"s":"n=4","x":26,"y":176.9},{"s":"n=4","x":28,"y":177.2},{"s":"n=4","x":30,"y":177.5},{"s":"n=4","x":32,"y":177.7},{"s":"n=4","x":35,"y":178},{"s":"n=4","x":40,"y":178.3},{"s":"n=4","x":45,"y":178.5},{"s":"n=4","x":50,"y":178.6},{"s":"n=4","x":55,"y":178.5},{"s":"n=4","x":60,"y":178.4},{"s":"n=4","x":65,"y":178.2},{"s":"n=4","x":70,"y":177.6},{"s":"n=4","x":72.5,"y":177.3},
{"s":"n=16","x":0,"y":182},{"s":"n=16","x":0.7,"y":178},{"s":"n=16","x":1.4,"y":175},{"s":"n=16","x":2.2,"y":173},{"s":"n=16","x":3,"y":172},{"s":"n=16","x":4,"y":171},{"s":"n=16","x":5,"y":170.3},{"s":"n=16","x":6,"y":171},{"s":"n=16","x":7,"y":172.5},{"s":"n=16","x":8,"y":175},{"s":"n=16","x":9,"y":178},{"s":"n=16","x":10,"y":180.5},{"s":"n=16","x":11,"y":182.5},{"s":"n=16","x":12,"y":184},{"s":"n=16","x":14,"y":185.3},{"s":"n=16","x":16,"y":186},{"s":"n=16","x":18,"y":186.4},{"s":"n=16","x":20,"y":186.7},{"s":"n=16","x":22,"y":186.8},{"s":"n=16","x":24,"y":186.7},{"s":"n=16","x":26,"y":186.8},{"s":"n=16","x":28,"y":187.2},{"s":"n=16","x":30,"y":187.8},{"s":"n=16","x":31,"y":188},{"s":"n=16","x":32,"y":187.8},{"s":"n=16","x":34,"y":186.6},{"s":"n=16","x":36,"y":184.5},{"s":"n=16","x":38,"y":181.5},{"s":"n=16","x":40,"y":177},{"s":"n=16","x":42,"y":172.5},{"s":"n=16","x":44,"y":168.5},{"s":"n=16","x":46,"y":165},{"s":"n=16","x":48,"y":162},{"s":"n=16","x":50,"y":158},{"s":"n=16","x":52,"y":154.5},{"s":"n=16","x":54,"y":151.5},{"s":"n=16","x":56,"y":149.5},{"s":"n=16","x":58,"y":148.8},{"s":"n=16","x":60,"y":148},{"s":"n=16","x":62,"y":146.8},{"s":"n=16","x":64,"y":145.5},{"s":"n=16","x":66,"y":144},{"s":"n=16","x":68,"y":142.3},{"s":"n=16","x":70,"y":140},{"s":"n=16","x":72.5,"y":136.7}
],
"antt_b":[
{"g":"n=4","x":0,"lo":187,"hi":191},{"g":"n=4","x":5,"lo":172.5,"hi":175},{"g":"n=4","x":20,"lo":174.5,"hi":177.2},{"g":"n=4","x":35,"lo":175.5,"hi":180.5},{"g":"n=4","x":50,"lo":175.5,"hi":181.5},{"g":"n=4","x":72.5,"lo":173.5,"hi":181.5},
{"g":"n=16","x":0,"lo":180,"hi":184},{"g":"n=16","x":5,"lo":169,"hi":172},{"g":"n=16","x":10,"lo":179,"hi":182},{"g":"n=16","x":20,"lo":185,"hi":188.5},{"g":"n=16","x":30,"lo":186,"hi":189.5},{"g":"n=16","x":35,"lo":183,"hi":189},{"g":"n=16","x":40,"lo":169,"hi":186},{"g":"n=16","x":45,"lo":152,"hi":184},{"g":"n=16","x":50,"lo":138,"hi":182},{"g":"n=16","x":55,"lo":128,"hi":180},{"g":"n=16","x":60,"lo":119,"hi":178},{"g":"n=16","x":65,"lo":112,"hi":176},{"g":"n=16","x":70,"lo":106,"hi":175},{"g":"n=16","x":72.5,"lo":102,"hi":174}
],
"antb_l":[
{"s":"n=4","x":0,"y":120},{"s":"n=4","x":1,"y":80},{"s":"n=4","x":2.5,"y":60},{"s":"n=4","x":4,"y":150},{"s":"n=4","x":5.5,"y":230},{"s":"n=4","x":7,"y":320},{"s":"n=4","x":8.5,"y":330},{"s":"n=4","x":10,"y":340},{"s":"n=4","x":11.5,"y":380},{"s":"n=4","x":13,"y":430},{"s":"n=4","x":14.5,"y":470},{"s":"n=4","x":16,"y":490},{"s":"n=4","x":17.5,"y":500},{"s":"n=4","x":19,"y":510},{"s":"n=4","x":20.5,"y":530},{"s":"n=4","x":22,"y":620},{"s":"n=4","x":23.5,"y":700},{"s":"n=4","x":25,"y":760},{"s":"n=4","x":26,"y":850},{"s":"n=4","x":27,"y":960},{"s":"n=4","x":28,"y":930},{"s":"n=4","x":29,"y":950},{"s":"n=4","x":30,"y":930},{"s":"n=4","x":31,"y":1050},{"s":"n=4","x":32,"y":1250},{"s":"n=4","x":33,"y":1450},{"s":"n=4","x":34,"y":1600},{"s":"n=4","x":35,"y":1700},{"s":"n=4","x":36,"y":1720},{"s":"n=4","x":37,"y":1650},{"s":"n=4","x":38,"y":1760},{"s":"n=4","x":39,"y":1550},{"s":"n=4","x":40,"y":1450},{"s":"n=4","x":40.8,"y":1650},{"s":"n=4","x":41.5,"y":1900},{"s":"n=4","x":42.3,"y":2350},{"s":"n=4","x":43.5,"y":2400},{"s":"n=4","x":45,"y":2450},{"s":"n=4","x":46,"y":2550},{"s":"n=4","x":47,"y":2700},{"s":"n=4","x":48,"y":2850},{"s":"n=4","x":49,"y":2950},{"s":"n=4","x":50,"y":3050},{"s":"n=4","x":51.5,"y":3200},{"s":"n=4","x":53,"y":3300},{"s":"n=4","x":54.5,"y":3420},{"s":"n=4","x":56,"y":3550},{"s":"n=4","x":57.5,"y":3700},{"s":"n=4","x":59,"y":3680},{"s":"n=4","x":60.5,"y":3600},{"s":"n=4","x":62,"y":3580},{"s":"n=4","x":63.5,"y":3600},{"s":"n=4","x":64.5,"y":3800},{"s":"n=4","x":65.5,"y":4000},{"s":"n=4","x":66.5,"y":4150},{"s":"n=4","x":67.5,"y":4300},{"s":"n=4","x":68.5,"y":4450},{"s":"n=4","x":69.5,"y":4450},{"s":"n=4","x":70.5,"y":4350},{"s":"n=4","x":71.3,"y":4450},{"s":"n=4","x":72,"y":4500},
{"s":"n=16","x":0,"y":350},{"s":"n=16","x":0.7,"y":150},{"s":"n=16","x":1.5,"y":0},{"s":"n=16","x":3,"y":-40},{"s":"n=16","x":5,"y":-60},{"s":"n=16","x":8,"y":-50},{"s":"n=16","x":12,"y":-40},{"s":"n=16","x":16,"y":-30},{"s":"n=16","x":20,"y":0},{"s":"n=16","x":24,"y":20},{"s":"n=16","x":28,"y":-10},{"s":"n=16","x":32,"y":0},{"s":"n=16","x":36,"y":40},{"s":"n=16","x":40,"y":60},{"s":"n=16","x":44,"y":20},{"s":"n=16","x":48,"y":-20},{"s":"n=16","x":52,"y":-40},{"s":"n=16","x":56,"y":-60},{"s":"n=16","x":60,"y":-20},{"s":"n=16","x":64,"y":40},{"s":"n=16","x":66,"y":60},{"s":"n=16","x":68,"y":20},{"s":"n=16","x":70,"y":-40},{"s":"n=16","x":72,"y":80}
],
"antb_b":[
{"g":"n=4","x":0,"lo":50,"hi":200},{"g":"n=4","x":10,"lo":250,"hi":420},{"g":"n=4","x":20,"lo":400,"hi":650},{"g":"n=4","x":28,"lo":750,"hi":1150},{"g":"n=4","x":35,"lo":1450,"hi":1950},{"g":"n=4","x":38,"lo":1400,"hi":2000},{"g":"n=4","x":40,"lo":1250,"hi":1750},{"g":"n=4","x":43,"lo":1700,"hi":2900},{"g":"n=4","x":48,"lo":2300,"hi":3350},{"g":"n=4","x":55,"lo":2800,"hi":4000},{"g":"n=4","x":60,"lo":2950,"hi":4200},{"g":"n=4","x":65,"lo":3400,"hi":4600},{"g":"n=4","x":70,"lo":3800,"hi":5200},{"g":"n=4","x":72,"lo":3900,"hi":5100}
]
},
"hconcat":[
 {"hconcat":[
   {"vconcat":[
     {"width":140,"height":126,"title":{"text":"Gridworld","offset":1},
      "layer":[
       {"data":{"name":"gwt_f"},"mark":{"type":"line","strokeWidth":1,"opacity":0.35,"clip":true},
        "encoding":{"x":{"field":"x","type":"quantitative","scale":{"domain":[0,500],"nice":false},"axis":{"values":[0,100,200,300,400,500],"tickCount":20,"title":null}},
         "y":{"field":"y","type":"quantitative","scale":{"domain":[8.5,154],"nice":false,"zero":false},"axis":{"values":[20,40,60,80,100,120,140],"tickCount":20,"title":"srankδ(Φ), δ = 0.01"}},
         "stroke":{"field":"s","type":"nominal","scale":{"domain":["n=10","n=200"],"range":["#d6361e","#1f74b8"]},"legend":null},
         "detail":{"field":"r"}}},
       {"data":{"name":"gwt_l"},"mark":{"type":"line","strokeWidth":2,"clip":true},
        "encoding":{"x":{"field":"x","type":"quantitative"},"y":{"field":"y","type":"quantitative"},
         "color":{"field":"s","type":"nominal","scale":{"domain":["Q*","n=10","n=200"],"range":["#222222","#d6361e","#1f74b8"]},"legend":null},
         "strokeDash":{"field":"s","type":"nominal","scale":{"domain":["Q*","n=10","n=200"],"range":[[6,3],[1,0],[1,0]]},"legend":null}}}
      ]},
     {"width":140,"height":126,
      "layer":[
       {"data":{"name":"gwb_b"},"mark":{"type":"area","opacity":0.2,"clip":true},
        "encoding":{"x":{"field":"x","type":"quantitative","scale":{"domain":[0,500],"nice":false},"axis":{"values":[0,100,200,300,400,500],"tickCount":20,"title":"Environment Steps"}},
         "y":{"field":"lo","type":"quantitative","scale":{"domain":[-0.033,1.017],"nice":false,"zero":false},"axis":{"values":[0,0.2,0.4,0.6,0.8,1.0],"tickCount":20,"format":".1f","title":"Normalized Return"}},
         "y2":{"field":"hi"},
         "fill":{"field":"s","type":"nominal","scale":{"domain":["n=10","n=200"],"range":["#d6361e","#1f74b8"]},"legend":null}}},
       {"data":{"name":"gwb_f"},"mark":{"type":"line","strokeWidth":1,"opacity":0.3,"clip":true},
        "encoding":{"x":{"field":"x","type":"quantitative"},"y":{"field":"y","type":"quantitative"},
         "stroke":{"field":"s","type":"nominal","scale":{"domain":["n=10","n=200"],"range":["#d6361e","#1f74b8"]},"legend":null},
         "detail":{"field":"r"}}},
       {"data":{"name":"gwb_l"},"mark":{"type":"line","strokeWidth":2,"clip":true},
        "encoding":{"x":{"field":"x","type":"quantitative"},"y":{"field":"y","type":"quantitative"},
         "color":{"field":"s","type":"nominal","scale":{"domain":["Supervised","n=10","n=200"],"range":["#222222","#d6361e","#1f74b8"]},"legend":{"title":null,"orient":"none","legendX":40,"legendY":46,"labelFontSize":8.5,"symbolSize":100}},
         "strokeDash":{"field":"s","type":"nominal","scale":{"domain":["Supervised","n=10","n=200"],"range":[[6,3],[1,0],[1,0]]},"legend":{"title":null,"orient":"none","legendX":40,"legendY":46,"labelFontSize":8.5,"symbolSize":100}}}}
      ]}
   ],"spacing":7,"resolve":{"scale":{"color":"independent","strokeDash":"independent","fill":"independent","stroke":"independent"},"legend":{"color":"independent","strokeDash":"independent"}}},
   {"width":3,"height":312,"data":{"values":[]},"mark":"point","view":{"fill":"#000000","stroke":null}}
 ],"spacing":2.4,"resolve":{"scale":{"color":"independent","strokeDash":"independent","fill":"independent","stroke":"independent"},"legend":{"color":"independent","strokeDash":"independent"}}},
 {"hconcat":[
 {"vconcat":[
   {"width":146,"height":126,"title":{"text":"Asterix","offset":3},
    "layer":[
     {"data":{"name":"ast_b"},"mark":{"type":"area","opacity":0.22,"clip":true},
      "encoding":{"x":{"field":"x","type":"quantitative","scale":{"domain":[0,200],"nice":false},"axis":{"values":[0,50,100,150,200],"tickCount":20,"title":null}},
       "y":{"field":"lo","type":"quantitative","scale":{"domain":[-21,513],"nice":false,"zero":false},"axis":{"values":[0,100,200,300,400,500],"tickCount":20,"title":"srankδ(Φ), δ = 0.01"}},
       "y2":{"field":"hi"},
       "fill":{"field":"s","type":"nominal","scale":{"domain":["DQN (n=1)","DQN (n=4)","DQN (n=8)"],"range":["#d6361e","#1f74b8","#f47531"]},"legend":null}}},
     {"data":{"name":"ast_l"},"mark":{"type":"line","strokeWidth":2,"clip":true},
      "encoding":{"x":{"field":"x","type":"quantitative"},"y":{"field":"y","type":"quantitative"},
       "color":{"field":"s","type":"nominal","scale":{"domain":["DQN (n=1)","Q*","DQN (n=4)","DQN (n=8)"],"range":["#d6361e","#222222","#1f74b8","#f47531"]},"legend":{"title":null,"orient":"none","legendX":74,"legendY":41,"labelFontSize":7.5,"symbolSize":110}},
       "strokeDash":{"field":"s","type":"nominal","scale":{"domain":["DQN (n=1)","Q*","DQN (n=4)","DQN (n=8)"],"range":[[1,0],[5,3],[1,0],[1,0]]},"legend":{"title":null,"orient":"none","legendX":74,"legendY":41,"labelFontSize":7.5,"symbolSize":110}}}}
    ]},
   {"width":146,"height":126,
    "layer":[
     {"data":{"name":"asb_b"},"mark":{"type":"area","opacity":0.22,"clip":true},
      "encoding":{"x":{"field":"x","type":"quantitative","scale":{"domain":[0,200],"nice":false},"axis":{"values":[0,50,100,150,200],"tickCount":20,"title":"Environment Steps"}},
       "y":{"field":"lo","type":"quantitative","scale":{"domain":[-517,15776],"nice":false,"zero":false},"axis":{"values":[0,2500,5000,7500,10000,12500,15000],"tickCount":20,"format":"d","title":"Average Return"}},
       "y2":{"field":"hi"},
       "fill":{"field":"s","type":"nominal","scale":{"domain":["DQN (n=1)","DQN (n=4)","DQN (n=8)"],"range":["#d6361e","#1f74b8","#f47531"]},"legend":null}}},
     {"data":{"name":"asb_f"},"mark":{"type":"line","strokeWidth":1,"opacity":0.3,"clip":true},
      "encoding":{"x":{"field":"x","type":"quantitative"},"y":{"field":"y","type":"quantitative"},
       "stroke":{"field":"s","type":"nominal","scale":{"domain":["DQN (n=1)","DQN (n=4)","DQN (n=8)"],"range":["#d6361e","#1f74b8","#f47531"]},"legend":null},
       "detail":{"field":"r"}}},
     {"data":{"name":"asb_l"},"mark":{"type":"line","strokeWidth":2,"clip":true},
      "encoding":{"x":{"field":"x","type":"quantitative"},"y":{"field":"y","type":"quantitative"},
       "color":{"field":"s","type":"nominal","scale":{"domain":["DQN (n=1)","Q*","DQN (n=4)","DQN (n=8)"],"range":["#d6361e","#333333","#1f74b8","#f47531"]},"legend":null},
       "strokeDash":{"field":"s","type":"nominal","scale":{"domain":["DQN (n=1)","Q*","DQN (n=4)","DQN (n=8)"],"range":[[1,0],[5,3],[1,0],[1,0]]},"legend":null}}}
    ]}
 ],"spacing":10,"resolve":{"scale":{"color":"independent","strokeDash":"independent","fill":"independent","stroke":"independent"},"legend":{"color":"independent","strokeDash":"independent"}}},
 {"hconcat":[
 {"hconcat":[
   {"vconcat":[
     {"width":144,"height":126,"title":{"text":"Seaquest","offset":3},
      "layer":[
       {"data":{"name":"sqt_b"},"mark":{"type":"area","opacity":0.22,"clip":true},
        "encoding":{"x":{"field":"x","type":"quantitative","scale":{"domain":[0,200],"nice":false},"axis":{"values":[0,50,100,150,200],"tickCount":20,"title":null}},
         "y":{"field":"lo","type":"quantitative","scale":{"domain":[-18,511],"nice":false,"zero":false},"axis":{"values":[0,100,200,300,400,500],"tickCount":20,"title":null}},
         "y2":{"field":"hi"},
         "fill":{"field":"s","type":"nominal","scale":{"domain":["DQN (n=1)","DQN (n=4)","DQN (n=8)"],"range":["#d6361e","#1f74b8","#f47531"]},"legend":null}}},
       {"data":{"name":"sqt_l"},"mark":{"type":"line","strokeWidth":2,"clip":true},
        "encoding":{"x":{"field":"x","type":"quantitative"},"y":{"field":"y","type":"quantitative"},
         "color":{"field":"s","type":"nominal","scale":{"domain":["DQN (n=1)","Q*","DQN (n=4)","DQN (n=8)"],"range":["#d6361e","#222222","#1f74b8","#f47531"]},"legend":{"title":null,"orient":"none","legendX":74,"legendY":3,"labelFontSize":7.5,"symbolSize":110}},
         "strokeDash":{"field":"s","type":"nominal","scale":{"domain":["DQN (n=1)","Q*","DQN (n=4)","DQN (n=8)"],"range":[[1,0],[5,3],[1,0],[1,0]]},"legend":{"title":null,"orient":"none","legendX":74,"legendY":3,"labelFontSize":7.5,"symbolSize":110}}}}
      ]},
     {"width":144,"height":126,
      "layer":[
       {"data":{"name":"sqb_b"},"mark":{"type":"area","opacity":0.22,"clip":true},
        "encoding":{"x":{"field":"x","type":"quantitative","scale":{"domain":[0,200],"nice":false},"axis":{"values":[0,50,100,150,200],"tickCount":20,"title":"Environment Steps"}},
         "y":{"field":"lo","type":"quantitative","scale":{"domain":[-1190,25000],"nice":false,"zero":false},"axis":{"values":[0,5000,10000,15000,20000],"tickCount":20,"format":"d","title":null}},
         "y2":{"field":"hi"},
         "fill":{"field":"s","type":"nominal","scale":{"domain":["DQN (n=1)","DQN (n=4)","DQN (n=8)"],"range":["#d6361e","#1f74b8","#f47531"]},"legend":null}}},
       {"data":{"name":"sqb_f"},"mark":{"type":"line","strokeWidth":1,"opacity":0.3,"clip":true},
        "encoding":{"x":{"field":"x","type":"quantitative"},"y":{"field":"y","type":"quantitative"},
         "stroke":{"field":"s","type":"nominal","scale":{"domain":["DQN (n=1)","DQN (n=4)","DQN (n=8)"],"range":["#d6361e","#1f74b8","#f47531"]},"legend":null},
         "detail":{"field":"r"}}},
       {"data":{"name":"sqb_l"},"mark":{"type":"line","strokeWidth":2,"clip":true},
        "encoding":{"x":{"field":"x","type":"quantitative"},"y":{"field":"y","type":"quantitative"},
         "color":{"field":"s","type":"nominal","scale":{"domain":["DQN (n=1)","Q*","DQN (n=4)","DQN (n=8)"],"range":["#d6361e","#333333","#1f74b8","#f47531"]},"legend":null},
         "strokeDash":{"field":"s","type":"nominal","scale":{"domain":["DQN (n=1)","Q*","DQN (n=4)","DQN (n=8)"],"range":[[1,0],[5,3],[1,0],[1,0]]},"legend":null}}}
      ]}
   ],"spacing":10,"resolve":{"scale":{"color":"independent","strokeDash":"independent","fill":"independent","stroke":"independent"},"legend":{"color":"independent","strokeDash":"independent"}}},
   {"width":3,"height":312,"data":{"values":[]},"mark":"point","view":{"fill":"#000000","stroke":null}}
 ],"spacing":0,"resolve":{"scale":{"color":"independent","strokeDash":"independent","fill":"independent","stroke":"independent"},"legend":{"color":"independent","strokeDash":"independent"}}},
 {"vconcat":[
   {"width":144,"height":126,"title":{"text":"Ant-v2","offset":1},
    "layer":[
     {"data":{"name":"antt_b"},"mark":{"type":"area","opacity":0.22,"clip":true},
      "encoding":{"x":{"field":"x","type":"quantitative","scale":{"domain":[0,75],"nice":false},"axis":{"values":[0,20,40,60],"tickCount":20,"title":null}},
       "y":{"field":"lo","type":"quantitative","scale":{"domain":[99.4,201.6],"nice":false,"zero":false},"axis":{"values":[100,120,140,160,180,200],"tickCount":20,"title":"srankδ(Φ), δ = 0.01"}},
       "y2":{"field":"hi"},
       "fill":{"field":"g","type":"nominal","scale":{"domain":["n=4","n=16"],"range":["#d6361e","#1f74b8"]},"legend":null}}},
     {"data":{"name":"antt_l"},"mark":{"type":"line","strokeWidth":2,"clip":true},
      "encoding":{"x":{"field":"x","type":"quantitative"},"y":{"field":"y","type":"quantitative"},
       "color":{"field":"s","type":"nominal","scale":{"domain":["n=4","n=16"],"range":["#d6361e","#1f74b8"]},"legend":{"title":null,"orient":"none","legendX":2,"legendY":93,"labelFontSize":8.5,"symbolSize":121}},
       "strokeDash":{"field":"s","type":"nominal","scale":{"domain":["n=4","n=16"],"range":[[1,0],[1,0]]},"legend":{"title":null,"orient":"none","legendX":2,"legendY":93,"labelFontSize":8.5,"symbolSize":121}}}}
    ]},
   {"width":144,"height":126,
    "layer":[
     {"data":{"name":"antb_b"},"mark":{"type":"area","opacity":0.22,"clip":true},
      "encoding":{"x":{"field":"x","type":"quantitative","scale":{"domain":[0,75],"nice":false},"axis":{"values":[0,20,40,60],"tickCount":20,"title":"Environment Steps (x10k)"}},
       "y":{"field":"lo","type":"quantitative","scale":{"domain":[-510,5490],"nice":false,"zero":false},"axis":{"values":[0,1000,2000,3000,4000,5000],"tickCount":20,"format":"d","title":"Average Return"}},
       "y2":{"field":"hi"},
       "fill":{"field":"g","type":"nominal","scale":{"domain":["n=4","n=16"],"range":["#d6361f","#1f74b9"]},"legend":null}}},
     {"data":{"name":"antb_l"},"mark":{"type":"line","strokeWidth":2,"clip":true},
      "encoding":{"x":{"field":"x","type":"quantitative"},"y":{"field":"y","type":"quantitative"},
       "color":{"field":"s","type":"nominal","scale":{"domain":["n=4","n=16"],"range":["#d6361f","#1f74b9"]},"legend":null}}}
    ]}
 ],"spacing":10,"resolve":{"scale":{"color":"independent","strokeDash":"independent","fill":"independent","stroke":"independent"},"legend":{"color":"independent","strokeDash":"independent"}}},
 {"width":1,"height":1,"data":{"values":[]},"mark":"point"}
 ],"spacing":7.4,"resolve":{"scale":{"color":"independent","strokeDash":"independent","fill":"independent","stroke":"independent"},"legend":{"color":"independent","strokeDash":"independent"}}}
 ],"spacing":5,"resolve":{"scale":{"color":"independent","strokeDash":"independent","fill":"independent","stroke":"independent"},"legend":{"color":"independent","strokeDash":"independent"}}}
],
"spacing":0.5,
"resolve":{"scale":{"color":"independent","strokeDash":"independent","fill":"independent","stroke":"independent"},"legend":{"color":"independent","strokeDash":"independent"}}
}
